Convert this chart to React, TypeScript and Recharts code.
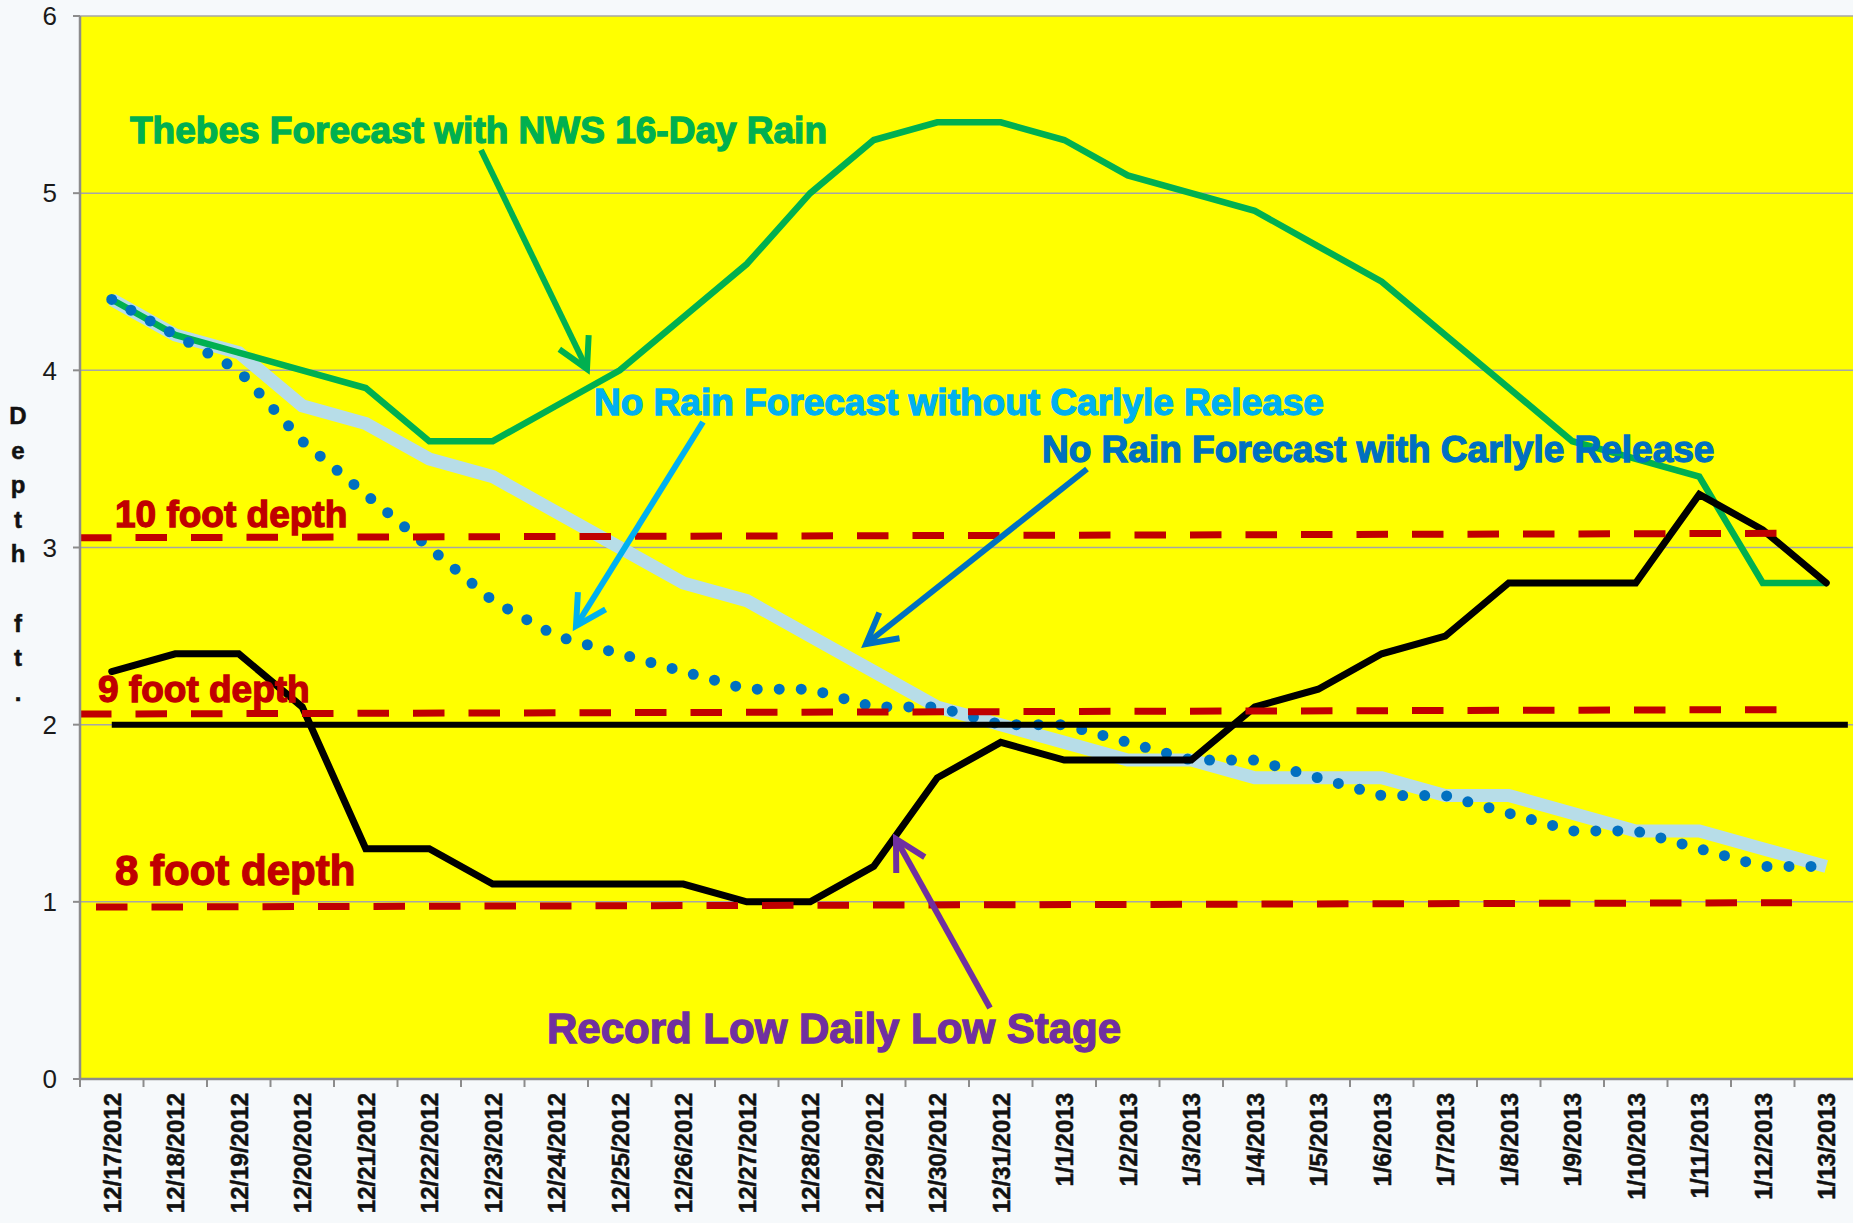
import React from "react";
import { ComposedChart, Line, XAxis, YAxis, CartesianGrid, ReferenceLine } from "recharts";

const dates = [
  "12/17/2012", "12/18/2012", "12/19/2012", "12/20/2012", "12/21/2012", "12/22/2012", "12/23/2012",
  "12/24/2012", "12/25/2012", "12/26/2012", "12/27/2012", "12/28/2012", "12/29/2012", "12/30/2012",
  "12/31/2012", "1/1/2013", "1/2/2013", "1/3/2013", "1/4/2013", "1/5/2013", "1/6/2013",
  "1/7/2013", "1/8/2013", "1/9/2013", "1/10/2013", "1/11/2013", "1/12/2013", "1/13/2013",
];

// Thebes forecast with NWS 16-day rain
const thebesRain = [
  4.4, 4.2, 4.1, 4.0, 3.9, 3.6, 3.6, 3.8, 4.0, 4.3, 4.6, 5.0, 5.3, 5.4,
  5.4, 5.3, 5.1, 5.0, 4.9, 4.7, 4.5, 4.2, 3.9, 3.6, 3.5, 3.4, 2.8, 2.8,
];
// no rain forecast with Carlyle release (thick light blue)
const withRelease = [
  4.4, 4.2, 4.1, 3.8, 3.7, 3.5, 3.4, 3.2, 3.0, 2.8, 2.7, 2.5, 2.3, 2.1,
  2.0, 1.9, 1.8, 1.8, 1.7, 1.7, 1.7, 1.6, 1.6, 1.5, 1.4, 1.4, 1.3, 1.2,
];
// no rain forecast without Carlyle release (dotted)
const withoutRelease = [
  4.4, 4.2, 4.0, 3.6, 3.3, 3.0, 2.7, 2.5, 2.4, 2.3, 2.2, 2.2, 2.1, 2.1,
  2.0, 2.0, 1.9, 1.8, 1.8, 1.7, 1.6, 1.6, 1.5, 1.4, 1.4, 1.3, 1.2, 1.2,
];
// record low daily low stage
const recordLow = [
  2.3, 2.4, 2.4, 2.1, 1.3, 1.3, 1.1, 1.1, 1.1, 1.1, 1.0, 1.0, 1.2, 1.7,
  1.9, 1.8, 1.8, 1.8, 2.1, 2.2, 2.4, 2.5, 2.8, 2.8, 2.8, 3.3, 3.1, 2.8,
];

const yTicks = [0, 1, 2, 3, 4, 5, 6];
const xTicks = dates.map((_, i) => i);

// depth reference lines: [startX, startY, endX, endY]
const tenFoot = [-0.5, 3.055, 26.46, 3.08];
const nineFoot = [-0.5, 2.06, 26.46, 2.085];
const eightFoot = [-0.5, 0.97, 26.46, 0.995];
const stageLine = [0, 2.0, 27.34, 2.0];

const data = dates.map((d, i) => ({
  i,
  date: d,
  thebes: thebesRain[i],
  withRel: withRelease[i],
  withoutRel: withoutRelease[i],
  low: recordLow[i],
}));

const FONT = "'Liberation Sans', Arial, sans-serif";
const PLOT_LEFT = 80;
const PLOT_RIGHT = 1858;
const BAND = (PLOT_RIGHT - PLOT_LEFT) / dates.length;

function DateTick(props: any) {
  const { x, y, payload, index } = props;
  const half = BAND / 2;
  const last = index === dates.length - 1;
  return (
    <g>
      <line x1={x - half} x2={x - half} y1={y} y2={y + 8} stroke="#8c8c8c" strokeWidth={2} />
      {last && <line x1={x + half} x2={x + half} y1={y} y2={y + 8} stroke="#8c8c8c" strokeWidth={2} />}
      <text
        transform={`translate(${x + 9},${y + 14}) rotate(-90)`}
        textAnchor="end"
        fontFamily={FONT}
        fontWeight="bold"
        fontSize={24}
        fill="#111"
        stroke="#111"
        strokeWidth={0.5}
      >
        {dates[payload.value]}
      </text>
    </g>
  );
}

function Arrow({ x1, y1, x2, y2, color }: { x1: number; y1: number; x2: number; y2: number; color: string }) {
  const ang = Math.atan2(y2 - y1, x2 - x1);
  const len = 34;
  const spread = 0.5;
  const ax = x2 - len * Math.cos(ang - spread);
  const ay = y2 - len * Math.sin(ang - spread);
  const bx = x2 - len * Math.cos(ang + spread);
  const by = y2 - len * Math.sin(ang + spread);
  return (
    <g stroke={color} strokeWidth={6} fill="none">
      <line x1={x1} y1={y1} x2={x2} y2={y2} />
      <polyline points={`${ax},${ay} ${x2},${y2} ${bx},${by}`} strokeLinejoin="miter" />
    </g>
  );
}

const depthLetters = ["D", "e", "p", "t", "h", "", "f", "t", "."];

export default function App() {
  const seg = (s: number[]) => [
    { x: s[0], y: s[1] },
    { x: s[2], y: s[3] },
  ];
  return (
    <div
      style={{
        position: "absolute",
        left: 0,
        top: 0,
        width: 1853,
        height: 1223,
        overflow: "hidden",
        background: "#f6f9fb",
      }}
    >
      <ComposedChart width={1860} height={1223} data={data} margin={{ top: 16, right: 2, bottom: 0, left: 0 }}>
        <CartesianGrid vertical={false} stroke="#a6a6a6" strokeWidth={1.5} fill="#ffff00" fillOpacity={1} />
        <XAxis
          dataKey="i"
          type="number"
          domain={[-0.5, 27.5]}
          ticks={xTicks}
          interval={0}
          height={144}
          tickSize={0}
          tickMargin={0}
          tick={<DateTick />}
          axisLine={{ stroke: "#8c8c8c", strokeWidth: 2.5 }}
        />
        <YAxis
          domain={[0, 6]}
          ticks={yTicks}
          width={80}
          tickSize={7}
          tickMargin={16}
          tick={{ fontSize: 26, fill: "#1a1a1a", fontFamily: FONT }}
          tickLine={{ stroke: "#8c8c8c", strokeWidth: 2 }}
          axisLine={{ stroke: "#8c8c8c", strokeWidth: 2.5 }}
        />
        <Line
          dataKey="withRel"
          stroke="#b7dde8"
          strokeWidth={13}
          dot={false}
          type="linear"
          isAnimationActive={false}
        />
        <Line
          dataKey="thebes"
          stroke="#00b050"
          strokeWidth={6.5}
          dot={false}
          type="linear"
          isAnimationActive={false}
        />
        <Line
          dataKey="withoutRel"
          stroke="#0070c0"
          strokeWidth={11}
          strokeDasharray="0 22"
          strokeLinecap="round"
          dot={false}
          type="linear"
          isAnimationActive={false}
        />
        <Line
          dataKey="low"
          stroke="#000"
          strokeWidth={7}
          strokeLinecap="round"
          dot={false}
          type="linear"
          isAnimationActive={false}
        />
        <ReferenceLine segment={seg(stageLine)} stroke="#000" strokeWidth={6} />
        <ReferenceLine segment={seg(tenFoot)} stroke="#c00000" strokeWidth={7} strokeDasharray="31.5 24" />
        <ReferenceLine segment={seg(nineFoot)} stroke="#c00000" strokeWidth={7} strokeDasharray="31.5 24" />
        <ReferenceLine
          segment={seg(eightFoot)}
          stroke="#c00000"
          strokeWidth={7}
          strokeDasharray="31.5 24"
          strokeDashoffset={39.5}
        />
      </ComposedChart>
      <svg
        width={1853}
        height={1223}
        style={{ position: "absolute", left: 0, top: 0, pointerEvents: "none" }}
        fontFamily={FONT}
        fontWeight="bold"
      >
        {depthLetters.map((c, k) => (
          <text key={k} x={18} y={424 + k * 34.6} textAnchor="middle" fontSize={24} fill="#111" stroke="#111" strokeWidth={0.5}>
            {c}
          </text>
        ))}
        <g strokeWidth={1.3}>
          <text x={130} y={143} fontSize={37} fill="#00b050" stroke="#00b050">Thebes Forecast with NWS 16-Day Rain</text>
          <text x={594} y={415} fontSize={37} fill="#00b0f0" stroke="#00b0f0">No Rain Forecast without Carlyle Release</text>
          <text x={1042} y={462} fontSize={37} fill="#0070c0" stroke="#0070c0">No Rain Forecast with Carlyle Release</text>
          <text x={115} y={527} fontSize={37} fill="#c00000" stroke="#c00000">10 foot depth</text>
          <text x={98} y={702} fontSize={37} fill="#c00000" stroke="#c00000">9 foot depth</text>
          <text x={115} y={885} fontSize={42} fill="#c00000" stroke="#c00000">8 foot depth</text>
          <text x={547} y={1043} fontSize={42} fill="#7030a0" stroke="#7030a0">Record Low Daily Low Stage</text>
        </g>
        <Arrow x1={481} y1={150} x2={587} y2={369} color="#00b050" />
        <Arrow x1={703} y1={422} x2={576} y2={626} color="#00b0f0" />
        <Arrow x1={1087} y1={469} x2={866} y2={644} color="#0070c0" />
        <Arrow x1={990} y1={1008} x2={896} y2={839} color="#7030a0" />
      </svg>
    </div>
  );
}
